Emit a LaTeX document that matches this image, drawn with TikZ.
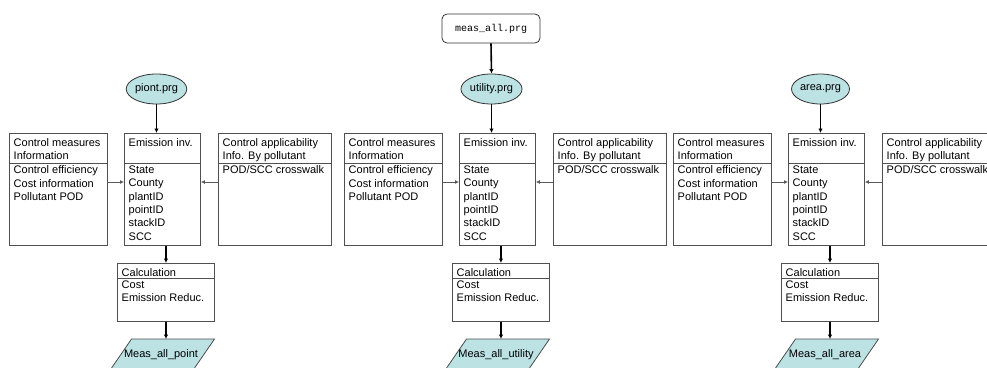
\documentclass[tikz,border=0pt]{standalone}
\usepackage{fontspec}
\setmainfont{Liberation Sans}
\setmonofont{Liberation Mono}
\usetikzlibrary{shapes.geometric,arrows.meta}

\definecolor{prgfill}{RGB}{188,226,228}
\definecolor{framegray}{RGB}{80,80,80}

\tikzset{
  frame/.style={draw=framegray, line width=0.9pt, inner sep=0pt, anchor=north west},
  divider/.style={draw=framegray, line width=0.9pt},
  txt/.style={anchor=north west, inner sep=0pt, align=left,
              font=\fontsize{11}{13.4}\selectfont},
  prg/.style={ellipse, draw=black!80, line width=0.8pt, fill=prgfill,
              minimum width=58pt, minimum height=30pt, inner sep=0pt,
              font=\fontsize{11}{13}\selectfont},
  outshape/.style={draw=black!70, line width=0.8pt, fill=prgfill},
  flow/.style={-{Latex[length=4.5pt,width=4.5pt]}, line width=1.6pt},
  feed/.style={-{Latex[length=4pt,width=4pt]}, line width=0.8pt, draw=black!65},
}

% a class-style box: name, x, y, width, height, divider offset, head text, body text
\newcommand\classbox[8]{%
  \node[frame, minimum width=#4pt, minimum height=#5pt] (#1) at (#2,#3) {};
  \draw[divider] ([yshift=-#6pt]#1.north west) -- ([yshift=-#6pt]#1.north east);
  \node[txt] (#1-head) at ([xshift=4.5pt,yshift=-5pt]#1.north west) {#7};
  \node[txt] (#1-body) at ([xshift=4.5pt,yshift=-#6pt-2.5pt]#1.north west) {#8};
}

\begin{document}
\begin{tikzpicture}[x=1pt,y=-1pt]
\useasboundingbox (0,0) rectangle (987,367);
\clip (0,0) rectangle (987,367);

% driver program
\node[draw=black!80, line width=0.8pt, rounded corners=5pt, minimum width=98pt,
      minimum height=29pt, inner sep=0pt, font=\ttfamily\fontsize{10}{12}\selectfont]
      (main) at (491,28.5) {meas\_all.prg};

\foreach \g/\x/\prog/\result in {1/9/piont.prg/Meas\_all\_point,
                                 2/344/utility.prg/Meas\_all\_utility,
                                 3/673/area.prg/Meas\_all\_area}{
  % source program
  \node[prg] (P\g) at (\x+147.5,89) {\prog};

  % data boxes
  \classbox{L\g}{\x}{133}{98}{112}{30}{Control measures\\Information}%
           {Control efficiency\\Cost information\\Pollutant POD}
  \classbox{E\g}{\x+115}{133}{76}{112}{30}{Emission inv.}%
           {State\\County\\plantID\\pointID\\stackID\\SCC}
  \classbox{R\g}{\x+209}{133}{113}{112}{30}{Control applicability\\Info. By pollutant}%
           {POD/SCC crosswalk}
  \classbox{C\g}{\x+108}{263}{97}{58}{15}{Calculation}{Cost\\Emission Reduc.}

  % output data set
  \coordinate (oc\g) at (\x+152,355);
  \draw[outshape] (oc\g) ++(-29.5,-16) -- ++(83,0) -- ++(-22,32) -- ++(-83,0) -- cycle;
  \node[inner sep=0pt, font=\fontsize{11}{13}\selectfont] (O\g) at (oc\g) {\result};
  \coordinate (ot\g) at (\x+157,339);

  % connectors
  \draw[flow] (P\g.south) -- (P\g.south |- E\g.north);
  \draw[feed] ([yshift=-49pt]L\g.north east) -- ([yshift=-49pt]E\g.north west);
  \draw[feed] ([yshift=-49pt]R\g.north west) -- ([yshift=-49pt]E\g.north east);
  \draw[flow] (C\g.north |- E\g.south) -- (C\g.north);
  \draw[flow] (C\g.south) -- (ot\g);
}

\draw[flow] (main.south) -- (P2.north);
\end{tikzpicture}
\end{document}
